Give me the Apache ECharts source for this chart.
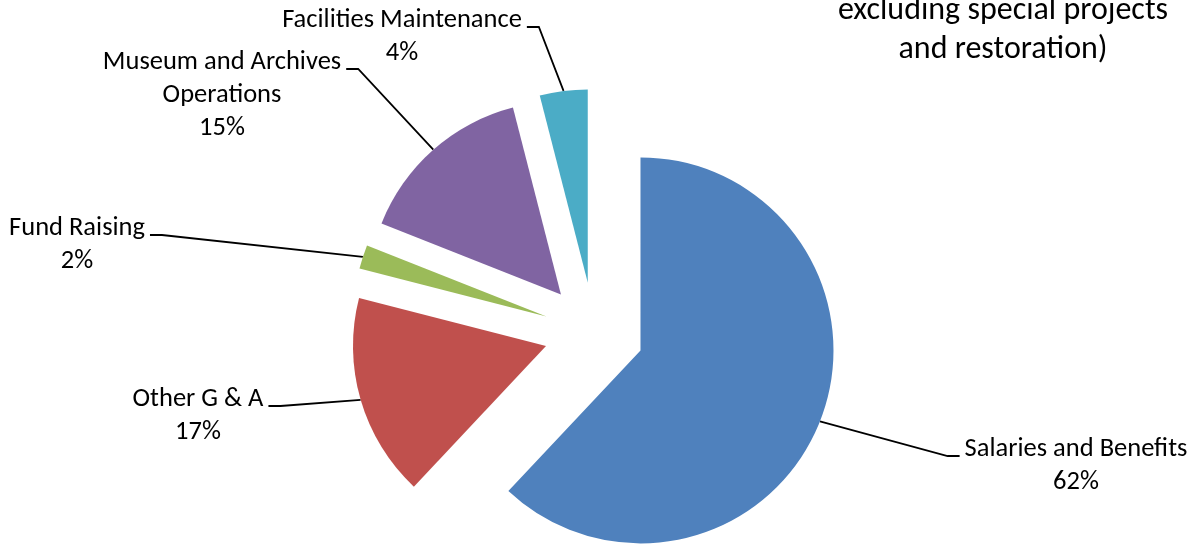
<!DOCTYPE html>
<html>
<head>
<meta charset="utf-8">
<script src="https://cdn.jsdelivr.net/npm/echarts@6/dist/echarts.min.js"></script>
<style>
  html, body { margin: 0; padding: 0; background: #fff; }
  #chart { width: 1198px; height: 545px; }
</style>
</head>
<body>
<div id="chart"></div>
<script>
// ---- data ----
const categories = ['Salaries and Benefits', 'Other G & A', 'Fund Raising', 'Museum and Archives Operations', 'Facilities Maintenance'];
const labelNames = ['Salaries and Benefits', 'Other G & A', 'Fund Raising', 'Museum and Archives\nOperations', 'Facilities Maintenance'];
const values = [62, 17, 2, 15, 4];
const colors = ['#4F81BD', '#C0504D', '#9BBB59', '#8064A2', '#4BACC6'];
const titleLines = ['excluding special projects', 'and restoration)'];

// ---- layout ----
const CENTER = [594, 332];
const RADIUS = 193;
const EXPLODE = 50;
const labelAnchors = [[1076, 433], [198, 383], [77, 212], [222, 46], [402, 4]]; // centre x, top y
const FONT = "Carlito, Calibri, 'Open Sans', sans-serif";

const chart = echarts.init(document.getElementById('chart'), null, { renderer: 'canvas' });

const pieData = categories.map(function (c, i) {
  return { name: c, value: values[i] };
});

const option = {
  animation: false,
  backgroundColor: '#ffffff',
  title: {
    text: titleLines.join('\n'),
    left: 998,
    top: -14,
    textAlign: 'center',
    textStyle: { fontFamily: FONT, fontSize: 32, fontWeight: 'normal', color: '#000', lineHeight: 39 }
  },
  series: [{
    // exploded slices
    type: 'pie',
    center: CENTER,
    radius: RADIUS,
    startAngle: 90,
    clockwise: true,
    selectedMode: 'multiple',
    selectedOffset: EXPLODE,
    emphasis: { disabled: true },
    silent: true,
    itemStyle: { borderWidth: 0 },
    label: { show: false },
    labelLine: { show: false },
    data: pieData.map(function (d, i) {
      return { name: d.name, value: d.value, selected: true, itemStyle: { color: colors[i] } };
    })
  }, {
    // transparent twin that carries the data labels and leader lines
    type: 'pie',
    center: CENTER,
    radius: RADIUS,
    startAngle: 90,
    clockwise: true,
    selectedMode: false,
    avoidLabelOverlap: false,
    emphasis: { disabled: true },
    silent: true,
    itemStyle: { color: 'rgba(0,0,0,0)', borderWidth: 0 },
    label: {
      show: true,
      position: 'outside',
      color: '#000',
      fontFamily: FONT,
      fontSize: 26.5,
      lineHeight: 33,
      formatter: function (p) { return labelNames[p.dataIndex] + '\n' + values[p.dataIndex] + '%'; }
    },
    labelLine: { show: true, length: 20, length2: 12, lineStyle: { color: '#000', width: 1.8, opacity: 1 } },
    labelLayout: function (p) {
      const a = labelAnchors[p.dataIndex];
      const w = p.labelRect.width;
      const baseY = a[1] + 23;
      const side = a[0] > CENTER[0] ? -1 : 1;
      const ex = a[0] + side * (w / 2 + 5);
      const elbowX = ex + side * 12;
      const res = { x: a[0], y: a[1], align: 'center', verticalAlign: 'top' };
      if (p.labelLinePoints) {
        const p0 = p.labelLinePoints[0];
        const vx = p0[0] - CENTER[0], vy = p0[1] - CENTER[1];
        const len = Math.sqrt(vx * vx + vy * vy) || 1;
        const start = [p0[0] + EXPLODE * vx / len, p0[1] + EXPLODE * vy / len];
        res.labelLinePoints = [start, [elbowX, baseY], [ex, baseY]];
      }
      return res;
    },
    data: pieData
  }]
};
chart.setOption(option);
</script>
</body>
</html>
